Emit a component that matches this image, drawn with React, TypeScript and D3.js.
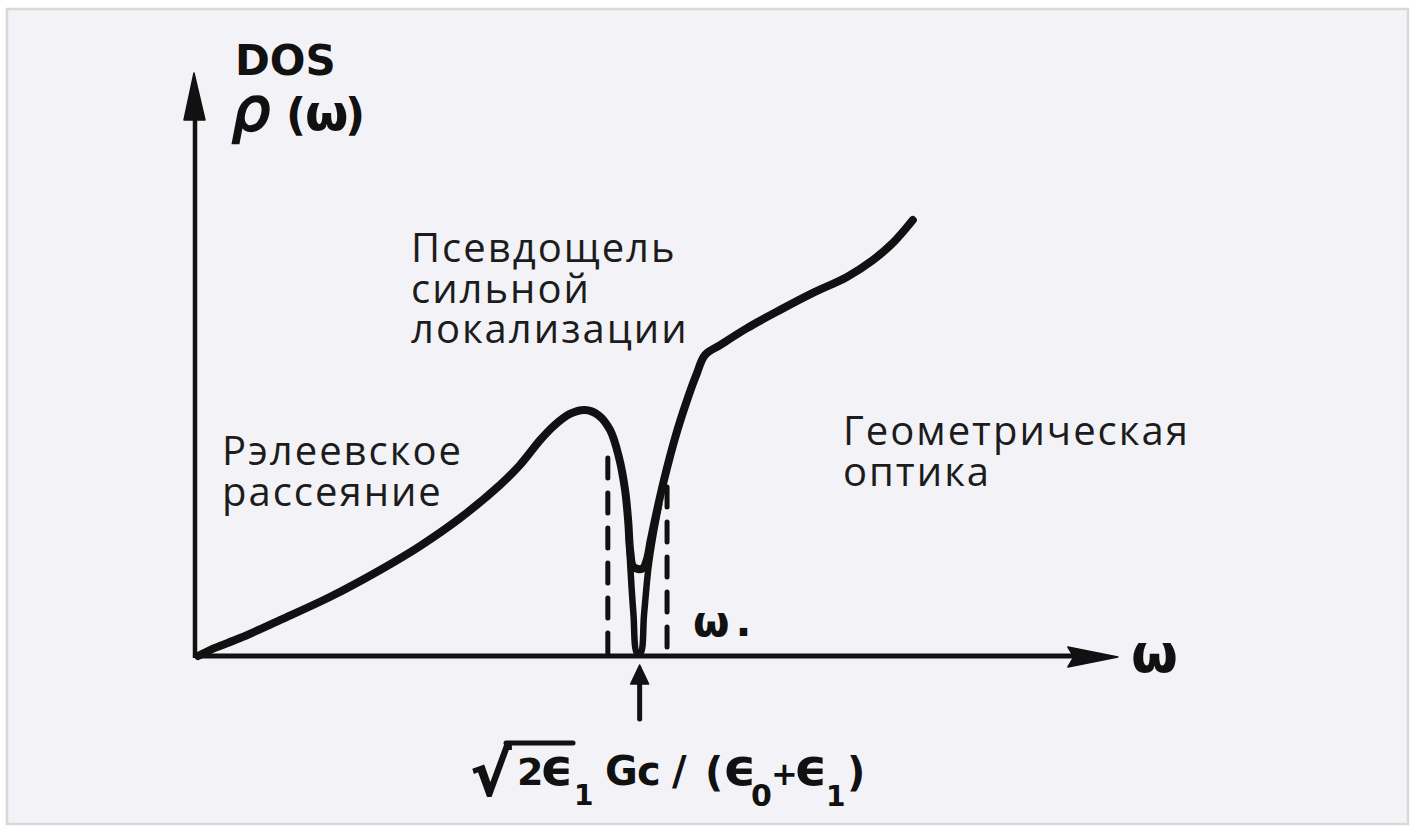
import React from "react";
import * as d3 from "d3";

// ---- data (frequency ω in units of ω0, DOS in units of the Rayleigh peak) ----
const omegaMain = [0.007, 0.045, 0.102, 0.192, 0.305, 0.419, 0.509, 0.6, 0.69, 0.735, 0.781, 0.814, 0.848, 0.882, 0.912, 0.939, 0.959, 0.973, 0.98, 0.985, 0.992, 1.012, 1.022, 1.031, 1.043, 1.061, 1.088, 1.111, 1.134, 1.154, 1.188, 1.249, 1.324, 1.398, 1.475, 1.534, 1.579, 1.624];
const dosMain = [0, 0.033, 0.073, 0.146, 0.24, 0.35, 0.447, 0.561, 0.695, 0.776, 0.878, 0.939, 0.984, 1.0, 0.98, 0.919, 0.809, 0.675, 0.55, 0.42, 0.362, 0.355, 0.39, 0.47, 0.573, 0.715, 0.898, 1.028, 1.142, 1.224, 1.264, 1.333, 1.407, 1.476, 1.541, 1.61, 1.679, 1.772];
const omegaDeep = [0.98, 0.985, 0.992, 1.0, 1.008, 1.016, 1.026, 1.037, 1.05];
const dosDeep = [0.55, 0.36, 0.17, 0.012, 0.012, 0.17, 0.36, 0.49, 0.614];
const dashOmega = [0.934, 1.068];
const dashTop = [0.805, 0.687];
const gapCenter = 1.006;
const axisMaxOmega = 2.088;
const axisMaxDos = 2.37;

const regionLabels = [
  { lines: ["Псевдощель", "сильной", "локализации"], x: 411, y: 262 },
  { lines: ["Рэлеевское", "рассеяние"], x: 222, y: 465 },
  { lines: ["Геометрическая", "оптика"], x: 843, y: 445 },
];

// glyphs of the gap-centre formula: text, left x, baseline y, font size
const formulaGlyphs: [string, number, number, number][] = [
  ["2", 517, 785, 38],
  ["ϵ", 540, 785, 52],
  ["1", 574, 805, 28],
  ["G", 605, 785, 40],
  ["c", 637, 785, 40],
  ["/", 672, 785, 40],
  ["(", 705, 786, 40],
  ["ϵ", 723, 785, 52],
  ["0", 751, 806, 30],
  ["+", 771, 785, 32],
  ["ϵ", 794, 785, 52],
  ["1", 826, 806, 28],
  [")", 847, 786, 40],
];

export default function App() {
  const W = 1418, H = 832;
  const x = d3.scaleLinear().domain([0, 1]).range([195, 637]);
  const y = d3.scaleLinear().domain([0, 1]).range([656, 410]);
  const line = d3
    .line<[number, number]>()
    .x((d) => x(d[0]))
    .y((d) => y(d[1]))
    .curve(d3.curveCatmullRom.alpha(0.5));
  const mainPts = omegaMain.map((o, i) => [o, dosMain[i]] as [number, number]);
  const deepPts = omegaDeep.map((o, i) => [o, dosDeep[i]] as [number, number]);
  const ink = "#111";
  const x0 = x(0), y0 = y(0);
  const xEnd = x(axisMaxOmega), yEnd = y(axisMaxDos);
  const hand = "'DejaVu Sans', sans-serif";
  const gx = x(gapCenter);

  return (
    <svg width={W} height={H} style={{ position: "absolute", left: 0, top: 0 }}>
      <rect x={0} y={0} width={W} height={H} fill="#ffffff" />
      <rect x={7} y={9} width={1401} height={815} fill="#f3f3f7" stroke="#d8d8d8" strokeWidth={2.5} />

      {/* axes */}
      <line x1={x0} y1={y0} x2={xEnd - 30} y2={y0} stroke={ink} strokeWidth={5} />
      <line x1={x0} y1={y0 + 2} x2={x0} y2={yEnd + 30} stroke={ink} strokeWidth={4.5} />
      <path d={`M${x0 - 1},${yEnd} L${x0 - 11},${yEnd + 47} L${x0 + 10},${yEnd + 47} Z`} fill={ink} stroke={ink} strokeWidth={1.5} strokeLinejoin="round" />
      <path d={`M${xEnd},${y0 + 1} L${xEnd - 50},${y0 - 9} L${xEnd - 44},${y0 + 1} L${xEnd - 50},${y0 + 11} Z`} fill={ink} stroke={ink} strokeWidth={1.5} strokeLinejoin="round" />

      {/* dashed gap borders */}
      {dashOmega.map((o, i) => (
        <line key={i} x1={x(o)} y1={y(dashTop[i])} x2={x(o)} y2={y0 - 2} stroke={ink} strokeWidth={5} strokeDasharray="20 15" strokeLinecap="round" />
      ))}

      {/* DOS curves */}
      <path d={line(deepPts) || ""} fill="none" stroke={ink} strokeWidth={6.5} strokeLinecap="round" strokeLinejoin="round" />
      <path d={line(mainPts) || ""} fill="none" stroke={ink} strokeWidth={8} strokeLinecap="round" strokeLinejoin="round" />

      {/* arrow marking the gap centre */}
      <line x1={gx} y1={y0 + 25} x2={gx} y2={y0 + 63} stroke={ink} strokeWidth={5} strokeLinecap="round" />
      <path d={`M${gx},${y0 + 9} L${gx - 9},${y0 + 28} L${gx + 9},${y0 + 28} Z`} fill={ink} stroke={ink} strokeWidth={1.5} strokeLinejoin="round" />

      {/* hand-lettered labels */}
      <text x={235} y={75} fontFamily={hand} fontWeight="bold" fontSize={42} fill={ink}>DOS</text>
      <text y={130} fontFamily={hand} fontWeight="bold" fill={ink}>
        <tspan x={232} fontSize={60} fontStyle="italic" fontWeight="normal" stroke={ink} strokeWidth={2.5}>ρ</tspan>
        <tspan x={286} fontSize={44}>(</tspan>
        <tspan x={305} fontSize={50}>ω</tspan>
        <tspan x={345} fontSize={44}>)</tspan>
      </text>
      <text x={1131} y={672} fontFamily={hand} fontWeight="bold" fontSize={54} fill={ink}>ω</text>
      <text x={693} y={636} fontFamily={hand} fontWeight="bold" fontSize={42} letterSpacing={6} fill={ink}>ω.</text>

      {/* gap-centre formula */}
      <text x={471} y={795} fontFamily={hand} fontWeight="bold" fontSize={60} fill={ink} stroke={ink} strokeWidth={1.5}>√</text>
      <line x1={506} y1={743} x2={573} y2={743} stroke={ink} strokeWidth={5} strokeLinecap="round" />
      <text fontFamily={hand} fontWeight="bold" fill={ink}>
        {formulaGlyphs.map(([t, gxp, gyp, fs], i) => (
          <tspan key={i} x={gxp} y={gyp} fontSize={fs}>{t}</tspan>
        ))}
      </text>

      {/* region labels */}
      {regionLabels.map((r, i) =>
        r.lines.map((l, j) => (
          <text key={`${i}-${j}`} x={r.x} y={r.y + j * 40.5} fontFamily="'Open Sans', sans-serif" fontSize={40} letterSpacing={2} fill="#1c1c1c">{l}</text>
        ))
      )}
    </svg>
  );
}
